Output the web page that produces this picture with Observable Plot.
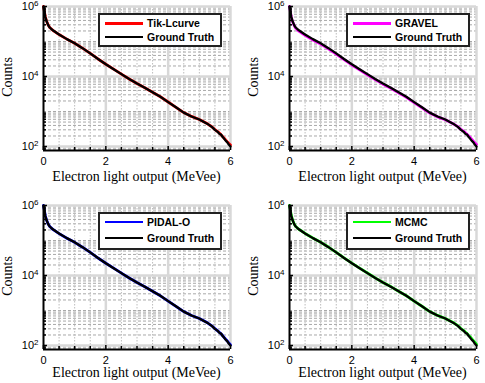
<!DOCTYPE html>
<html><head><meta charset="utf-8">
<script src="https://cdn.jsdelivr.net/npm/d3@7"></script>
<script src="https://cdn.jsdelivr.net/npm/@observablehq/plot@0.6"></script>
<style>
body{margin:0;background:#fff;}
#wrap{position:relative;width:485px;height:383px;overflow:hidden;background:#fff;}
.panel{position:absolute;}
.xl{position:absolute;font-family:"Liberation Serif",serif;font-size:14px;white-space:nowrap;transform:translate(-50%,-50%);}
.yl{position:absolute;font-family:"Liberation Serif",serif;font-size:14px;white-space:nowrap;transform:translate(-50%,-50%) rotate(-90deg);}
.legend{position:absolute;box-sizing:border-box;width:124px;border:2px solid #222;background:#fff;font:bold 10.5px "Liberation Sans",sans-serif;}
.legend .ln{position:absolute;left:5px;width:38px;height:2.5px;}
.legend .tx{position:absolute;left:47px;white-space:nowrap;transform:translateY(-50%);}
</style></head>
<body><div id="wrap"></div>
<script>
// Electron light output (MeVee)
const energy = [0,0.03,0.06,0.1,0.15,0.2,0.3,0.5,0.75,1.0,1.25,1.5,1.75,2.0,2.25,2.5,2.75,3.0,3.25,3.5,3.75,4.0,4.25,4.5,4.75,5.0,5.25,5.4,5.5,5.6,5.65,5.7,5.75,5.8,5.85,5.9,5.95,6.0];
// Ground truth counts
const truth = [1000000,708000,501000,380000,295000,251000,209000,158000,117000,89000,64600,45700,31600,22400,16200,11700,8500,6300,4800,3550,2630,1860,1320,930,720,590,450,365,300,257,229,219,186,166,145,132,112,100];
// Reconstructions
const tikLcurve = [1000000,700000,500000,380000,296000,252000,209000,158000,117000,89000,64600,45700,31700,22400,16200,11700,8500,6300,4800,3550,2640,1870,1320,935,725,590,452,368,305,262,240,215,192,172,152,136,122,110];
const gravel = [1000000,690000,490000,365000,285000,240000,198000,150000,111000,84500,61500,43500,30200,21400,15500,11200,8150,6050,4620,3420,2540,1800,1280,905,705,580,448,370,308,265,245,222,200,180,160,142,127,114];
const pidal = [1000000,705000,500000,379000,294000,250000,208000,157500,116500,88700,64400,45600,31600,22400,16200,11700,8500,6300,4800,3550,2630,1860,1320,932,722,590,452,366,302,258,236,214,190,169,149,134,118,104];
const mcmc = [1000000,705000,502000,382000,297000,252000,210000,159000,118000,89500,65000,46000,31900,22600,16300,11800,8550,6330,4820,3560,2640,1865,1325,935,725,592,455,370,306,262,240,218,195,175,155,138,122,108];

const methods = ["Tik-Lcurve","GRAVEL","PIDAL-O","MCMC"];
const colors = ["#ff0000","#ff00ff","#0000ff","#00ff00"];
const recons = [tikLcurve, gravel, pidal, mcmc];

const xTicks = [0,2,4,6];
const xMinorTicks = [0.5,1,1.5,2.5,3,3.5,4.5,5,5.5];
const yTicks = [1e2,1e4,1e6];
const yMinorTicks = [];
for (const e of [1,2,3,4,5]) for (const m of [2,3,4,5,6,7,8,9]) yMinorTicks.push(m*Math.pow(10,e));
const yMinorGrid = yMinorTicks.concat([1e3,1e5]).filter(v => v > 77);
const yMin = 77;

const W = 243, H = 190;
const mL = 43, mR = 13, mT = 6, mB = 40;
const offsets = [[0,0],[246,0],[0,199],[246,199]];
const wrap = document.getElementById("wrap");

methods.forEach((name, i) => {
  const [ox, oy] = offsets[i];
  const rows = energy.map((e, j) => ({e, truth: truth[j], rec: recons[i][j]}));
  const plot = Plot.plot({
    width: W, height: H,
    marginLeft: mL, marginRight: mR, marginTop: mT, marginBottom: mB,
    x: {domain: [0, 6]},
    y: {type: "log", domain: [yMin, 1e6]},
    style: {fontFamily: "Liberation Sans, sans-serif", fontSize: "11px", background: "white", overflow: "visible"},
    marks: [
      Plot.ruleY(yMinorGrid, {stroke: "#a8a8a8", strokeWidth: 1, strokeDasharray: "3,2"}),
      Plot.ruleX(xMinorTicks, {stroke: "#bcbcbc", strokeWidth: 1, strokeDasharray: "1.5,1.5"}),
      Plot.ruleY(yTicks, {stroke: "#d8d8d8", strokeWidth: 2.5}),
      Plot.ruleX(xTicks.slice(1), {stroke: "#d8d8d8", strokeWidth: 2.5}),
      Plot.line(rows, {x: "e", y: "rec", stroke: colors[i], strokeWidth: 2.8}),
      Plot.line(rows, {x: "e", y: "truth", stroke: "black", strokeWidth: 2.3}),
      Plot.ruleX([0], {stroke: "black", strokeWidth: 2}),
      Plot.ruleY([yMin], {stroke: "black", strokeWidth: 2}),
      Plot.axisX({ticks: xMinorTicks, tickSize: -3, tickFormat: () => "", label: null, strokeWidth: 1.5}),
      Plot.axisX({ticks: xTicks, tickSize: -4, tickPadding: 11, tickFormat: d => String(d), label: null, strokeWidth: 1.5}),
      Plot.axisY({ticks: yMinorTicks.filter(v => v > yMin), tickSize: -3, tickFormat: () => "", label: null, strokeWidth: 1.5}),
      Plot.axisY({ticks: yTicks, tickSize: -4, tickPadding: 9, tickFormat: d => "10^" + Math.round(Math.log10(d)), label: null, strokeWidth: 1.5})
    ]
  });
  plot.classList.add("panel");
  plot.style.left = ox + "px";
  plot.style.top = oy + "px";
  // superscript exponents
  d3.select(plot).selectAll('g[aria-label="y-axis tick label"] text').each(function() {
    const t = d3.select(this);
    const s = t.text();
    if (!s.startsWith("10^")) return;
    t.text("10");
    t.append("tspan").attr("dy", "-0.45em").attr("font-size", "8px").text(s.slice(3));
  });
  wrap.appendChild(plot);

  const row2 = oy > 0;
  const xl = document.createElement("div");
  xl.className = "xl";
  xl.textContent = "Electron light output (MeVee)";
  xl.style.left = (ox + 136.5) + "px";
  xl.style.top = (row2 ? 373 : 177) + "px";
  wrap.appendChild(xl);

  const yl = document.createElement("div");
  yl.className = "yl";
  yl.textContent = "Counts";
  yl.style.left = (ox + 8) + "px";
  yl.style.top = (oy + 77) + "px";
  wrap.appendChild(yl);

  const lg = document.createElement("div");
  lg.className = "legend";
  lg.style.left = (ox + (i % 2 ? 100 : 98)) + "px";
  lg.style.top = (row2 ? 211.5 : 13) + "px";
  lg.style.height = (row2 ? 38 : 34) + "px";
  const r1 = row2 ? 8.6 : 8.3, r2 = row2 ? 24.6 : 22;
  lg.innerHTML =
    `<div class="ln" style="top:${r1-1.25}px;background:${colors[i]}"></div><div class="tx" style="top:${r1}px">${name}</div>` +
    `<div class="ln" style="top:${r2-1.25}px;background:#000"></div><div class="tx" style="top:${r2}px">Ground Truth</div>`;
  wrap.appendChild(lg);
});
</script></body></html>
